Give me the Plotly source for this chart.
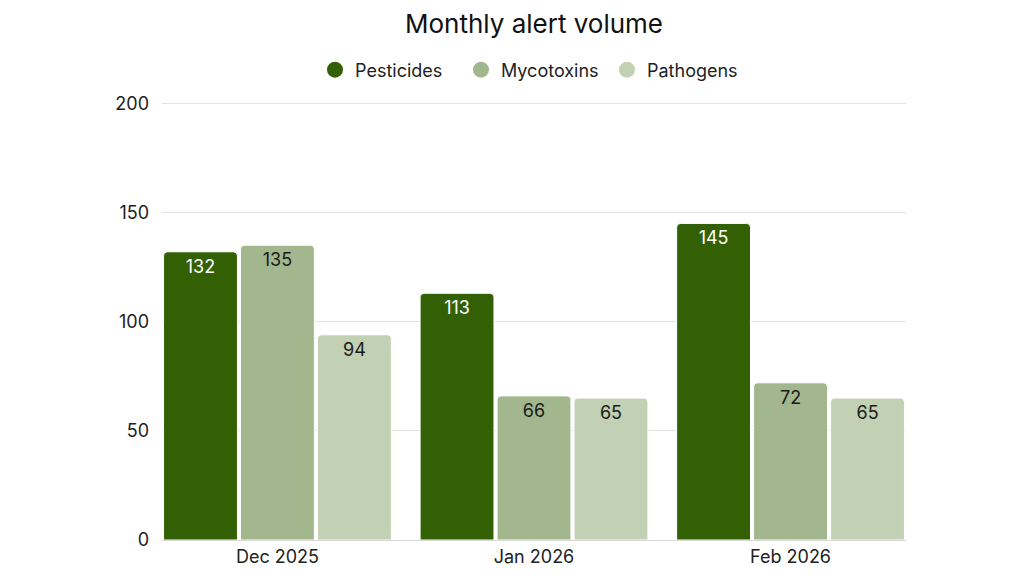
import plotly.graph_objects as go

months = ["Dec 2025", "Jan 2026", "Feb 2026"]
series_names = ["Pesticides", "Mycotoxins", "Pathogens"]
pesticides = [132, 113, 145]
mycotoxins = [135, 66, 72]
pathogens = [94, 65, 65]
y_ticks = [0, 50, 100, 150, 200]

colors = ["#336004", "#a3b78e", "#c2d0b3"]
text_colors = ["white", "#1a1a1a", "#1a1a1a"]
font_family = "Inter, Roboto, sans-serif"

fig = go.Figure()

for name, vals, col, tcol in zip(series_names, [pesticides, mycotoxins, pathogens], colors, text_colors):
    fig.add_trace(go.Bar(
        x=months, y=vals, name=name,
        marker=dict(color=col, line=dict(color="white", width=1)),
        text=[str(v) for v in vals],
        textposition="inside",
        insidetextanchor="end",
        textangle=0,
        textfont=dict(color=tcol, size=18, family=font_family),
        showlegend=False,
    ))
    # circle legend entry
    fig.add_trace(go.Scatter(
        x=[None], y=[None], mode="markers", name=name,
        marker=dict(color=col, size=19, symbol="circle"),
        showlegend=True,
    ))

fig.update_layout(
    width=1024, height=576,
    paper_bgcolor="white", plot_bgcolor="white",
    margin=dict(l=154, r=126, t=94, b=44, autoexpand=False),
    title=dict(text="Monthly alert volume", x=0.5, xref="paper", xanchor="center",
               y=1 - 16 / 576, yref="container", yanchor="middle",
               font=dict(size=26, family=font_family, color="#111111")),
    font=dict(family=font_family, size=18, color="#222222"),
    barmode="group", bargap=0.1, bargroupgap=0.04,
    barcornerradius=4,
    legend=dict(orientation="h", x=0.5, xanchor="center", xref="paper",
                y=1 - 62 / 576, yref="container", yanchor="middle",
                font=dict(size=18, family=font_family, color="#222222"),
                itemwidth=30, entrywidth=101, traceorder="normal"),
    uniformtext=dict(minsize=18, mode="show"),
)

fig.update_xaxes(range=[-0.45, 2.45], showgrid=False, showline=True,
                 linecolor="#d9d9d9", linewidth=1, ticks="",
                 tickfont=dict(size=18, family=font_family, color="#222222"))
fig.update_yaxes(range=[0, 200.6], tickvals=y_ticks, showgrid=True,
                 gridcolor="#e3e3e3", gridwidth=1, zeroline=False,
                 showline=False, ticks="", ticklabelstandoff=12,
                 tickfont=dict(size=18, family=font_family, color="#222222"))

fig.write_html("out.html")
